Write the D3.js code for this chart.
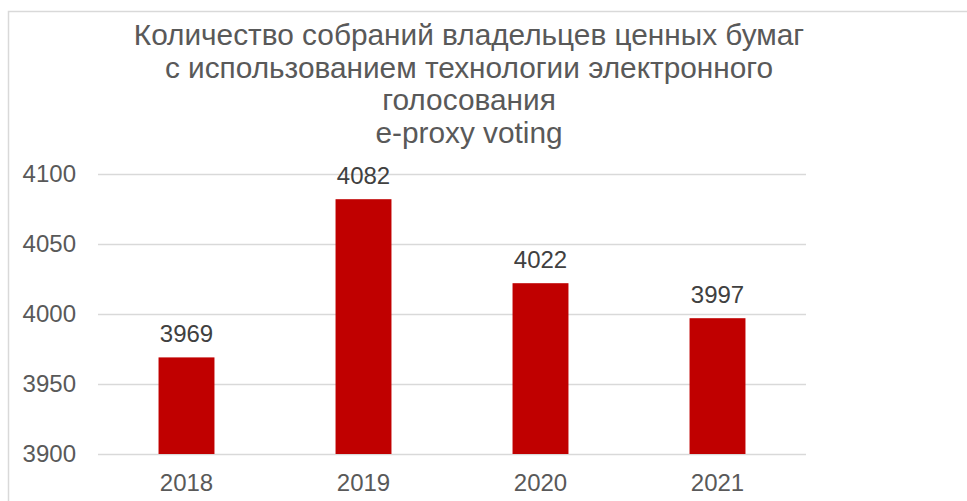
<!DOCTYPE html>
<html>
<head>
<meta charset="utf-8">
<script src="https://cdn.jsdelivr.net/npm/d3@7"></script>
<style>
  html, body { margin: 0; padding: 0; background: #fff; }
  svg { display: block; font-family: "Liberation Sans", Arial, Helvetica, sans-serif; }
</style>
</head>
<body>
<svg id="chart" width="967" height="501"></svg>
<script>
const categories = ["2018", "2019", "2020", "2021"];
const values = [3969, 4082, 4022, 3997];
const yTicks = [3900, 3950, 4000, 4050, 4100];
const titleLines = [
  "Количество собраний владельцев ценных бумаг",
  "с использованием технологии электронного",
  "голосования",
  "e-proxy voting"
];

const svg = d3.select("#chart");
const W = 967, H = 501;
const margin = { left: 98, right: 161, top: 174, bottom: 47 };

// chart border
svg.append("rect")
  .attr("x", 8.5).attr("y", 11.5)
  .attr("width", W + 20).attr("height", H + 20)
  .attr("fill", "none").attr("stroke", "#d9d9d9").attr("stroke-width", 1.5);

const x = d3.scaleBand()
  .domain(categories)
  .range([margin.left, W - margin.right])
  .paddingInner(0.684)
  .paddingOuter(0.342);

const y = d3.scaleLinear()
  .domain([3900, 4100])
  .range([H - margin.bottom, margin.top]);

// gridlines
const yAxis = d3.axisLeft(y).tickValues(yTicks).tickFormat(d3.format("d"))
  .tickSize(-(W - margin.right - margin.left)).tickPadding(22);
const gy = svg.append("g").attr("transform", `translate(${margin.left},0)`).call(yAxis);
gy.select(".domain").remove();
gy.selectAll(".tick line").attr("stroke", "#d9d9d9").attr("stroke-width", 1.5);
gy.selectAll(".tick text").attr("fill", "#595959").attr("font-size", 24).attr("font-family", "Liberation Sans, Arial, sans-serif");

// bars
svg.append("g").selectAll("rect")
  .data(values)
  .join("rect")
  .attr("x", (d, i) => x(categories[i]))
  .attr("y", d => y(d))
  .attr("width", x.bandwidth())
  .attr("height", d => y(3900) - y(d))
  .attr("fill", "#c00000");

// value labels
svg.append("g").selectAll("text")
  .data(values)
  .join("text")
  .attr("x", (d, i) => x(categories[i]) + x.bandwidth() / 2)
  .attr("y", d => y(d) - 15)
  .attr("text-anchor", "middle")
  .attr("fill", "#404040")
  .attr("font-size", 24)
  .text(d => d);

// x axis
const xAxis = d3.axisBottom(x).tickSize(0).tickPadding(20);
const gx = svg.append("g").attr("transform", `translate(0,${H - margin.bottom})`).call(xAxis);
gx.select(".domain").remove();
gx.selectAll(".tick text").attr("fill", "#595959").attr("font-size", 24).attr("font-family", "Liberation Sans, Arial, sans-serif");

// title
const title = svg.append("text")
  .attr("x", 469)
  .attr("y", 45)
  .attr("text-anchor", "middle")
  .attr("fill", "#595959")
  .attr("font-size", 29.8);
title.selectAll("tspan")
  .data(titleLines)
  .join("tspan")
  .attr("x", 469)
  .attr("dy", (d, i) => i === 0 ? 0 : 32.7)
  .text(d => d);
</script>
</body>
</html>
